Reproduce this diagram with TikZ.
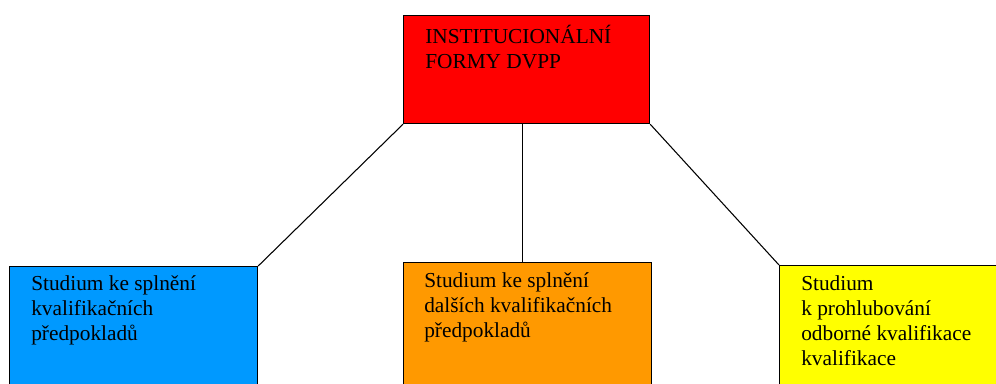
\documentclass[tikz,border=0pt]{standalone}
\usepackage{fontspec}
\setmainfont{Liberation Serif}
\usepackage{xcolor}
\usetikzlibrary{positioning}
\definecolor{formred}{RGB}{255,0,0}
\definecolor{studyblue}{RGB}{0,153,255}
\definecolor{studyorange}{RGB}{255,153,0}
\definecolor{studyyellow}{RGB}{255,255,0}

\begin{document}
\begin{tikzpicture}[x=0.75pt,y=-0.75pt,
    formbox/.style={draw=black, line width=0.9pt, rectangle, inner sep=0pt, anchor=north west},
    formtext/.style={anchor=north west, inner sep=0pt, align=left, font=\fontsize{16pt}{18.75pt}\selectfont,
        execute at begin node=\rule{0pt}{15pt}},
    branch/.style={line width=0.8pt}]
    \useasboundingbox (0,0) rectangle (996,383);
    \clip (0,0) rectangle (996,383);
    % boxes
    \node[formbox, fill=formred, minimum width=184.5pt, minimum height=81pt] (forms) at (403,15) {};
    \node[formbox, fill=studyblue, minimum width=186pt, minimum height=105pt] (prereq) at (9,266) {};
    \node[formbox, fill=studyorange, minimum width=186pt, minimum height=105pt] (further) at (403,262) {};
    \node[formbox, fill=studyyellow, minimum width=180pt, minimum height=105pt] (deepen) at (779,265) {};
    % texts (first baseline 20px below the node top)
    \node[formtext] (formslabel) at ([shift={(22,10)}]forms.north west) {INSTITUCIONÁLNÍ\\FORMY DVPP};
    \node[formtext] (prereqlabel) at ([shift={(22,9)}]prereq.north west) {Studium ke splnění\\kvalifikačních\\předpokladů};
    \node[formtext] (furtherlabel) at ([shift={(21,10)}]further.north west) {Studium ke splnění\\dalších kvalifikačních\\předpokladů};
    \node[formtext] (deepenlabel) at ([shift={(22,10)}]deepen.north west) {Studium\\k prohlubování\\odborné kvalifikace\\kvalifikace};
    % links
    \draw[branch] (forms.south west) -- (prereq.north east);
    \draw[branch] ([xshift=-3pt]forms.south) -- ([xshift=-3pt]forms.south |- further.north);
    \draw[branch] (forms.south east) -- (deepen.north west);
\end{tikzpicture}
\end{document}
